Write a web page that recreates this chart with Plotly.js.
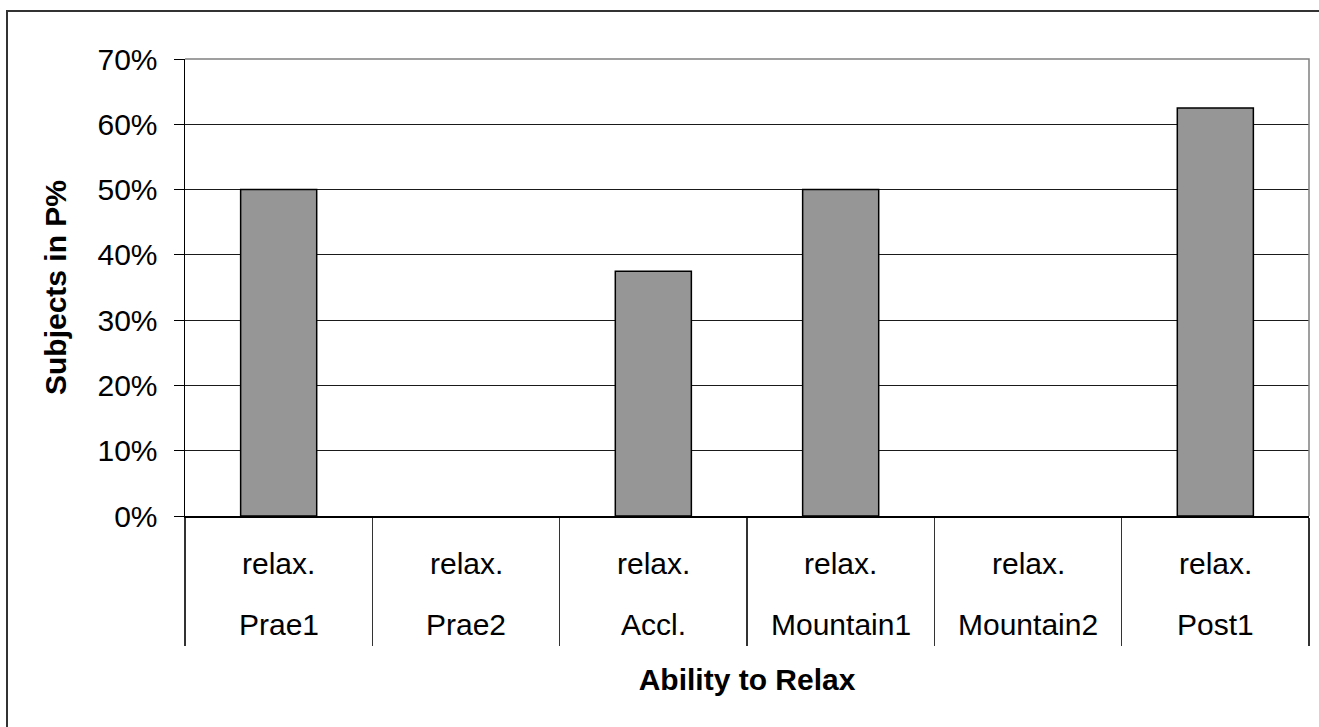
<!DOCTYPE html>
<html>
<head>
<meta charset="utf-8">
<script src="https://cdn.plot.ly/plotly-3.0.1.min.js"></script>
<style>
  html, body { margin: 0; padding: 0; background: #fff; overflow: hidden; }
  #chart { width: 1319px; height: 727px; position: absolute; left: 0; top: 0; }
  #frame { position: absolute; left: 6px; top: 10px; width: 1400px; height: 800px;
           border-left: 2px solid #333; border-top: 2px solid #333; pointer-events: none; }
</style>
</head>
<body>
<div id="chart"></div>
<div id="frame"></div>
<script>
// ---- data ----
const categories = ["Prae1", "Prae2", "Accl.", "Mountain1", "Mountain2", "Post1"];
const rowLabel = ["relax.", "relax.", "relax.", "relax.", "relax.", "relax."];
const values = [0.50, 0.0, 0.375, 0.50, 0.0, 0.625];
const yTickVals = [0, 0.1, 0.2, 0.3, 0.4, 0.5, 0.6, 0.7];
const xTitle = "Ability to Relax";
const yTitle = "Subjects in P%";

const FONT = "Liberation Sans, Arial, sans-serif";
const FS = 30;

const trace = {
  type: "bar",
  x: categories,
  y: values,
  marker: {
    color: "#969696",
    line: { color: "#000000", width: values.map(v => (v > 0 ? 1.5 : 0)) }
  },
  hoverinfo: "x+y"
};

const annotations = [];
categories.forEach((c, i) => {
  annotations.push({ x: c, y: 0, xref: "x", yref: "y", text: rowLabel[i], showarrow: false,
    yanchor: "middle", xanchor: "center", yshift: -47, font: { family: FONT, size: FS, color: "#000" } });
  annotations.push({ x: c, y: 0, xref: "x", yref: "y", text: c, showarrow: false,
    yanchor: "middle", xanchor: "center", yshift: -108, font: { family: FONT, size: FS, color: "#000" } });
});

const layout = {
  width: 1319, height: 727,
  margin: { l: 185, r: 10, t: 59, b: 211 },
  paper_bgcolor: "#ffffff", plot_bgcolor: "#ffffff",
  showlegend: false,
  bargap: 0.594,
  font: { family: FONT, size: FS, color: "#000" },
  xaxis: {
    type: "category",
    showticklabels: false,
    ticks: "outside", tickson: "boundaries", ticklen: 128, tickcolor: "#333", tickwidth: 1.5,
    showgrid: false, zeroline: false,
    showline: true, linecolor: "#000", linewidth: 1.5,
    title: { text: xTitle, font: { family: FONT, size: FS, color: "#000", weight: "bold" }, standoff: 152 },
    automargin: false
  },
  yaxis: {
    range: [0, 0.7],
    tickvals: yTickVals,
    tickformat: ".0%",
    ticks: "outside", ticklen: 10, tickcolor: "#000", tickwidth: 1,
    ticklabelstandoff: 10,
    tickfont: { family: FONT, size: FS, color: "#000" },
    showgrid: true, gridcolor: "#1a1a1a", gridwidth: 1,
    zeroline: false,
    showline: true, linecolor: "#000", linewidth: 1.5,
    title: { text: yTitle, font: { family: FONT, size: FS, color: "#000", weight: "bold" }, standoff: 22 },
    automargin: false
  },
  shapes: [{
    type: "path", xref: "paper", yref: "paper", layer: "above",
    path: "M 0 1 L 1 1 L 1 0",
    line: { color: "#808080", width: 1.5 }
  }],
  annotations: annotations
};

Plotly.newPlot("chart", [trace], layout, { staticPlot: true, displayModeBar: false });
</script>
</body>
</html>
